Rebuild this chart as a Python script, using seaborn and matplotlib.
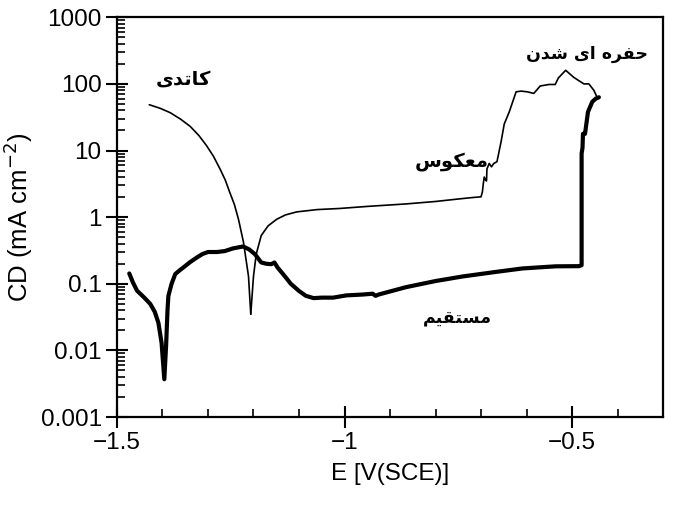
import numpy as np
import pandas as pd
import matplotlib
matplotlib.use("Agg")
import matplotlib.pyplot as plt
import matplotlib.ticker as mticker
import seaborn as sns

# ---------------- data ----------------
cathodic_E = [-1.429, -1.405, -1.383, -1.360, -1.339, -1.320, -1.303, -1.288,
              -1.273, -1.262, -1.252, -1.242, -1.233, -1.222, -1.211, -1.206]
cathodic_CD = [48.7, 43, 37, 29.5, 23, 16.8, 11.8, 8.2,
               5.2, 3.6, 2.34, 1.55, 0.93, 0.42, 0.13, 0.035]

reverse_E = [-1.206, -1.200, -1.194, -1.183, -1.168, -1.149, -1.130, -1.105,
             -1.060, -1.011, -0.950, -0.865, -0.800, -0.748, -0.719, -0.700,
             -0.697, -0.695, -0.693, -0.690, -0.688, -0.687, -0.682, -0.677,
             -0.672, -0.665, -0.656, -0.649, -0.638, -0.623, -0.612, -0.598,
             -0.584, -0.570, -0.551, -0.537, -0.530, -0.514, -0.496, -0.474,
             -0.463, -0.452, -0.445]
reverse_CD = [0.035, 0.13, 0.279, 0.53, 0.74, 0.93, 1.08, 1.2,
              1.3, 1.35, 1.45, 1.58, 1.72, 1.88, 1.97, 2.02,
              2.4, 3.2, 4.0, 3.6, 3.5, 5.3, 6.4, 5.7,
              6.4, 6.8, 13.5, 25, 38, 76, 78, 76,
              72, 93, 98, 98, 123, 160, 125, 100,
              100, 80, 63]

forward_E = [-1.473, -1.465, -1.456, -1.440, -1.427, -1.417, -1.409, -1.402,
             -1.396, -1.392, -1.389, -1.387, -1.380, -1.372, -1.362, -1.354,
             -1.340, -1.325, -1.312, -1.300, -1.280, -1.263, -1.245, -1.223,
             -1.210, -1.197, -1.183, -1.172, -1.161, -1.154, -1.147, -1.132,
             -1.118, -1.100, -1.085, -1.068, -1.050, -1.025, -0.996, -0.960,
             -0.938, -0.932, -0.925, -0.865, -0.800, -0.740, -0.670, -0.609,
             -0.536, -0.485, -0.479, -0.479, -0.477, -0.476, -0.4715, -0.465,
             -0.4555, -0.448, -0.441]
forward_CD = [0.143, 0.105, 0.079, 0.062, 0.050, 0.038, 0.026, 0.013,
              0.0037, 0.012, 0.040, 0.066, 0.10, 0.14, 0.16, 0.176,
              0.21, 0.247, 0.28, 0.30, 0.30, 0.31, 0.34, 0.363,
              0.33, 0.279, 0.209, 0.20, 0.197, 0.209, 0.175, 0.132,
              0.10, 0.078, 0.066, 0.061, 0.062, 0.062, 0.067, 0.069,
              0.071, 0.066, 0.069, 0.089, 0.11, 0.129, 0.15, 0.17,
              0.183, 0.184, 0.19, 9.0, 11, 17.8, 17.8, 38,
              54, 60, 63]

x_major = [-1.5, -1.0, -0.5]
x_major_labels = ["\u22121.5", "\u22121", "\u22120.5"]
x_minor = [-1.4, -1.3, -1.2, -1.1, -0.9, -0.8, -0.7, -0.6, -0.4]
y_major = [0.001, 0.01, 0.1, 1, 10, 100, 1000]
y_major_labels = ["0.001", "0.01", "0.1", "1", "10", "100", "1000"]

# Persian labels (presentation forms, visual order)
label_cathodic = "\uFBFC\uFEAA\uFE97\uFE8E\uFB90"            # کاتدی
label_pitting = "\uFEE5\uFEAA\uFEB7 \uFBFC\uFE8D \uFEE9\uFEAE\uFED4\uFEA3"  # حفره ای شدن
label_reverse = "\uFEB1\uFEEE\uFB91\uFECC\uFEE3"             # معکوس
label_forward = "\uFEE2\uFBFF\uFED8\uFE98\uFEB4\uFEE3"       # مستقیم

# ---------------- plot ----------------
sns.set_theme(style="ticks")
plt.rcParams['font.family'] = ['Liberation Sans', 'DejaVu Sans']

fig = plt.figure(figsize=(6.93, 5.08), dpi=100)
ax = fig.add_axes([0.1688, 0.179, 0.788, 0.787])

df_c = pd.DataFrame({"E": cathodic_E, "CD": cathodic_CD})
df_r = pd.DataFrame({"E": reverse_E, "CD": reverse_CD})
df_f = pd.DataFrame({"E": forward_E, "CD": forward_CD})

sns.lineplot(data=df_c, x="E", y="CD", sort=False, estimator=None,
             color="black", lw=1.2, ax=ax)
sns.lineplot(data=df_r, x="E", y="CD", sort=False, estimator=None,
             color="black", lw=1.2, ax=ax)
sns.lineplot(data=df_f, x="E", y="CD", sort=False, estimator=None,
             color="black", lw=3.0, ax=ax)

ax.set_yscale("log")
ax.set_xlim(-1.5, -0.30)
ax.set_ylim(0.001, 1000)

ax.xaxis.set_major_locator(mticker.FixedLocator(x_major))
ax.xaxis.set_major_formatter(mticker.FixedFormatter(x_major_labels))
ax.xaxis.set_minor_locator(mticker.FixedLocator(x_minor))
ax.yaxis.set_major_locator(mticker.FixedLocator(y_major))
ax.yaxis.set_major_formatter(mticker.FixedFormatter(y_major_labels))
ax.yaxis.set_minor_locator(mticker.LogLocator(base=10, subs=np.arange(2, 10)))
ax.yaxis.set_minor_formatter(mticker.NullFormatter())

ax.tick_params(axis="both", which="major", direction="inout", length=16,
               width=1.5, colors="black", labelsize=17.5, pad=3)
ax.tick_params(axis="both", which="minor", direction="in", length=6,
               width=1.2, colors="black")

for s in ax.spines.values():
    s.set_visible(True)
    s.set_linewidth(1.6)
    s.set_color("black")

ax.set_xlabel("E [V(SCE)]", fontsize=17.5, color="black", labelpad=6)
ax.set_ylabel("CD (mA cm$^{-2}$)", fontsize=18.5, color="black", labelpad=4)

pfont = dict(family=["DejaVu Sans"], fontweight="bold", color="black",
             ha="center", va="center")
ax.text(-1.355, 117, label_cathodic, fontsize=14, **pfont)
ax.text(-0.467, 280, label_pitting, fontsize=12.5, **pfont)
ax.text(-0.765, 6.9, label_reverse, fontsize=14, **pfont)
ax.text(-0.752, 0.031, label_forward, fontsize=12.5, **pfont)

fig.savefig("out.png", dpi=100)
